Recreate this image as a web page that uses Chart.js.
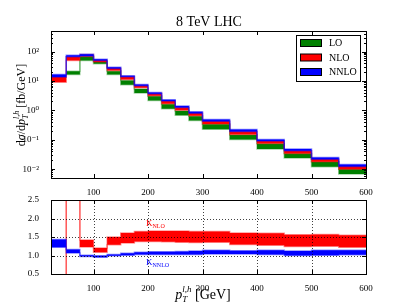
<!DOCTYPE html>
<html>
<head>
<meta charset="utf-8">
<script src="https://cdn.jsdelivr.net/npm/chart.js@4.4.0/dist/chart.umd.min.js"></script>
<style>
html, body { margin: 0; padding: 0; background: #fff; }
#wrap { position: relative; width: 407px; height: 305px; overflow: hidden; }
#top { position: absolute; left: 0; top: 0; }
#bot { position: absolute; left: 0; top: 190px; }
</style>
</head>
<body>
<div id="wrap">
  <canvas id="top" width="407" height="195"></canvas>
  <canvas id="bot" width="407" height="115"></canvas>
</div>
<script>
// bin edges (GeV) and band limits
var edges = [22, 50, 75, 100, 125, 150, 175, 200, 225, 250, 275, 300, 350, 400, 450, 500, 550, 600];
var loLow    = [null, 16.6, 49.5, 38.3, 16.6, 7.4, 3.9, 2.18, 1.14, 0.677, 0.448, 0.227, 0.102, 0.048, 0.024, 0.012, 0.0068];
var loHigh   = [null, 21.5, 67.8, 45.8, 21.5, 10.4, 5.3, 2.99, 1.60, 0.946, 0.627, 0.335, 0.146, 0.073, 0.034, 0.0177, 0.010];
var nloLow   = [9.1, 49.5, 68, 44, 22.7, 11.2, 5.9, 3.15, 1.69, 1.0, 0.65, 0.344, 0.15, 0.074, 0.034, 0.0177, 0.010];
var nloHigh  = [13.5, 66, 80, 51.5, 27.5, 14.2, 7.1, 3.8, 2.12, 1.28, 0.81, 0.435, 0.195, 0.093, 0.043, 0.0222, 0.0127];
var nnloLow  = [13.5, 66, 70, 49.5, 26.5, 13.9, 6.9, 3.68, 2.07, 1.24, 0.79, 0.424, 0.19, 0.091, 0.042, 0.0218, 0.0124];
var nnloHigh = [16.6, 75, 81, 54.8, 29.4, 15.0, 7.6, 4.07, 2.31, 1.40, 0.90, 0.484, 0.222, 0.102, 0.048, 0.025, 0.0144];
// K factors (bin 1 below the axis, bin 2 above it)
var kNloLow   = [0, 3.0, 1.23, 1.09, 1.29, 1.34, 1.38, 1.38, 1.37, 1.36, 1.35, 1.36, 1.30, 1.28, 1.24, 1.25, 1.22];
var kNloHigh  = [0, 3.6, 1.42, 1.20, 1.50, 1.61, 1.65, 1.66, 1.66, 1.66, 1.65, 1.65, 1.61, 1.60, 1.56, 1.57, 1.55];
var kNnloLow  = [1.22, 1.07, 0.97, 0.95, 0.99, 1.01, 1.03, 1.03, 1.03, 1.03, 1.03, 1.04, 1.04, 1.03, 1.00, 1.01, 1.02];
var kNnloHigh = [1.43, 1.16, 1.01, 0.99, 1.03, 1.06, 1.09, 1.10, 1.10, 1.11, 1.12, 1.14, 1.13, 1.14, 1.12, 1.14, 1.14];

var xTicks = [100, 200, 300, 400, 500, 600];
var yTicksTop = [0.01, 0.1, 1, 10, 100];
var yTickLabelsTop = ['10⁻²', '10⁻¹', '10⁰', '10¹', '10²'];
var yTicksBot = [0.5, 1.0, 1.5, 2.0, 2.5];
var legendNames = ['LO', 'NLO', 'NNLO'];

var serif = "'Liberation Serif', 'DejaVu Serif', serif";
var GREEN = 'rgb(0,128,0)', RED = 'rgb(255,0,0)', BLUE = 'rgb(0,0,255)';

function steps(vals) {
  var pts = vals.map(function (v, i) { return { x: edges[i], y: v }; });
  pts.push({ x: edges[edges.length - 1], y: vals[vals.length - 1] });
  return pts;
}

function band(lo, hi, fill, edge) {
  return [
    { data: steps(hi), backgroundColor: fill, borderColor: edge, fill: '+1' },
    { data: steps(lo), borderColor: edge, fill: false }
  ];
}

// rich text helper: sub/superscripts for the axis labels
function measure(ctx, parts) {
  var x = 0, list = [], ps = 0, pw = 0;
  parts.forEach(function (p) {
    ctx.font = (p.i ? 'italic ' : '') + p.s + 'px ' + serif;
    var w = ctx.measureText(p.t).width;
    var sx = p.back ? ps : x;
    list.push({ p: p, x: sx });
    if (p.back) { x = Math.max(ps + pw, sx + w); } else { ps = sx; pw = w; x = sx + w; }
  });
  return { list: list, width: x };
}
function drawRich(ctx, parts, x, y, color, align) {
  var m = measure(ctx, parts);
  var x0 = align === 'left' ? x : x - m.width / 2;
  ctx.fillStyle = color;
  ctx.textAlign = 'left';
  ctx.textBaseline = 'alphabetic';
  m.list.forEach(function (it) {
    ctx.font = (it.p.i ? 'italic ' : '') + it.p.s + 'px ' + serif;
    ctx.fillText(it.p.t, x0 + it.x, y + (it.p.dy || 0));
  });
}

function frameAndTicks(chart, minorLog) {
  var ctx = chart.ctx, a = chart.chartArea;
  var xs = chart.scales.x, ys = chart.scales.y;
  ctx.save();
  ctx.strokeStyle = '#000';
  ctx.lineWidth = 1;
  ctx.beginPath();
  xTicks.forEach(function (v) {
    var px = Math.round(xs.getPixelForValue(v)) + 0.5;
    ctx.moveTo(px, a.bottom); ctx.lineTo(px, a.bottom - 4);
    ctx.moveTo(px, a.top); ctx.lineTo(px, a.top + 4);
  });
  var vals = [];
  if (minorLog) {
    for (var d = -3; d <= 2; d++) for (var m = 1; m <= 9; m++) vals.push(m * Math.pow(10, d));
  } else {
    vals = yTicksBot.slice();
  }
  vals.forEach(function (v) {
    if (v < ys.min || v > ys.max) return;
    var py = Math.round(ys.getPixelForValue(v)) + 0.5;
    var major = !minorLog || Math.abs(Math.log10(v) - Math.round(Math.log10(v))) < 1e-9;
    var len = major ? 4 : 2;
    ctx.moveTo(a.left, py); ctx.lineTo(a.left + len, py);
    ctx.moveTo(a.right, py); ctx.lineTo(a.right - len, py);
  });
  ctx.stroke();
  ctx.strokeRect(Math.round(a.left) + 0.5, Math.round(a.top) + 0.5,
    Math.round(a.right - a.left), Math.round(a.bottom - a.top));
  ctx.restore();
}

var topDeco = {
  id: 'topDeco',
  afterDraw: function (chart) {
    var ctx = chart.ctx;
    frameAndTicks(chart, true);
    ctx.save();
    // title
    ctx.fillStyle = '#000';
    ctx.font = '14px ' + serif;
    ctx.textAlign = 'center';
    ctx.textBaseline = 'alphabetic';
    ctx.fillText('8 TeV LHC', 209, 26);
    // y label
    ctx.translate(25, 105);
    ctx.rotate(-Math.PI / 2);
    drawRich(ctx, [
      { t: 'd', s: 12 }, { t: 'σ', s: 12, i: 1 }, { t: '/d', s: 12 }, { t: 'p', s: 12, i: 1 },
      { t: 'T', s: 8, i: 1, dy: 3 }, { t: 'l,h', s: 8, i: 1, dy: -6, back: 1 },
      { t: ' [fb/GeV]', s: 12 }
    ], 0, 0, '#000');
    ctx.restore();
    // legend
    ctx.save();
    ctx.fillStyle = '#fff';
    ctx.fillRect(297, 35, 64, 46);
    ctx.strokeStyle = '#000';
    ctx.lineWidth = 1;
    ctx.strokeRect(296.5, 35.5, 64, 46);
    var cols = [GREEN, RED, BLUE];
    legendNames.forEach(function (name, i) {
      var cy = 43 + i * 14.5;
      ctx.fillStyle = cols[i];
      ctx.fillRect(300, cy - 3.5, 21, 7);
      ctx.strokeStyle = '#000';
      ctx.strokeRect(300.5, cy - 3.5, 21, 7);
      ctx.fillStyle = '#000';
      ctx.font = '10px ' + serif;
      ctx.textAlign = 'left';
      ctx.textBaseline = 'middle';
      ctx.fillText(name, 329, cy + 0.5);
    });
    ctx.restore();
  }
};

var botDeco = {
  id: 'botDeco',
  afterDatasetsDraw: function (chart) {
    var ctx = chart.ctx, a = chart.chartArea;
    var xs = chart.scales.x, ys = chart.scales.y;
    ctx.save();
    ctx.strokeStyle = 'rgba(0,0,0,0.75)';
    ctx.lineWidth = 1;
    ctx.setLineDash([1, 2]);
    ctx.beginPath();
    xTicks.forEach(function (v) {
      var px = Math.round(xs.getPixelForValue(v)) + 0.5;
      ctx.moveTo(px, a.top); ctx.lineTo(px, a.bottom);
    });
    yTicksBot.forEach(function (v) {
      var py = Math.round(ys.getPixelForValue(v)) + 0.5;
      ctx.moveTo(a.left, py); ctx.lineTo(a.right, py);
    });
    ctx.stroke();
    ctx.restore();
  },
  afterDraw: function (chart) {
    var ctx = chart.ctx;
    frameAndTicks(chart, false);
    ctx.save();
    drawRich(ctx, [{ t: 'K', s: 9 }, { t: 'NLO', s: 6, dy: 2 }], 146, 36, RED, 'left');
    drawRich(ctx, [{ t: 'K', s: 9 }, { t: 'NNLO', s: 6, dy: 2 }], 146, 75, BLUE, 'left');
    drawRich(ctx, [
      { t: 'p', s: 14, i: 1 }, { t: 'T', s: 9, i: 1, dy: 3 }, { t: 'l,h', s: 9, i: 1, dy: -7, back: 1 },
      { t: ' [GeV]', s: 14 }
    ], 203, 109, '#000');
    ctx.restore();
  }
};

function xScale(h) {
  return {
    type: 'linear', min: 22, max: 600,
    grid: { display: false }, border: { display: false },
    afterBuildTicks: function (s) { s.ticks = xTicks.map(function (v) { return { value: v }; }); },
    afterFit: function (s) { s.height = h; },
    ticks: { color: '#000', font: { family: serif, size: 9 }, padding: 1, maxRotation: 0 }
  };
}

var common = {
  responsive: false,
  animation: false,
  elements: { point: { radius: 0 }, line: { stepped: true, borderWidth: 1.5 } },
  plugins: { legend: { display: false }, tooltip: { enabled: false } }
};

window.onload = function () {
  var topSets = [].concat(
    band(nnloLow, nnloHigh, BLUE, 'rgba(0,0,255,0.45)'),
    band(nloLow, nloHigh, RED, 'rgba(255,0,0,0.35)'),
    band(loLow, loHigh, GREEN, 'rgba(0,128,0,0.35)')
  );
  new Chart(document.getElementById('top').getContext('2d'), {
    type: 'line',
    data: { datasets: topSets },
    options: Object.assign({}, common, {
      layout: { padding: { left: 0, top: 31, right: 41, bottom: 0 } },
      scales: {
        x: xScale(17),
        y: {
          type: 'logarithmic', min: 0.005, max: 500,
          grid: { display: false }, border: { display: false },
          afterBuildTicks: function (s) { s.ticks = yTicksTop.map(function (v) { return { value: v }; }); },
          afterFit: function (s) { s.width = 51; },
          ticks: {
            color: '#000', font: { family: serif, size: 9 }, padding: 4,
            callback: function (v, i) { return yTickLabelsTop[i]; }
          }
        }
      }
    }),
    plugins: [topDeco]
  });

  var botSets = [].concat(
    band(kNnloLow, kNnloHigh, BLUE, 'rgba(0,0,255,0.45)'),
    band(kNloLow, kNloHigh, RED, 'rgba(255,0,0,0.4)')
  );
  new Chart(document.getElementById('bot').getContext('2d'), {
    type: 'line',
    data: { datasets: botSets },
    options: Object.assign({}, common, {
      layout: { padding: { left: 0, top: 10, right: 41, bottom: 0 } },
      scales: {
        x: xScale(31),
        y: {
          type: 'linear', min: 0.5, max: 2.5,
          grid: { display: false }, border: { display: false },
          afterBuildTicks: function (s) { s.ticks = yTicksBot.map(function (v) { return { value: v }; }); },
          afterFit: function (s) { s.width = 51; },
          ticks: {
            color: '#000', font: { family: serif, size: 9 }, padding: 4,
            callback: function (v) { return v.toFixed(1); }
          }
        }
      }
    }),
    plugins: [botDeco]
  });
};
</script>
</body>
</html>
